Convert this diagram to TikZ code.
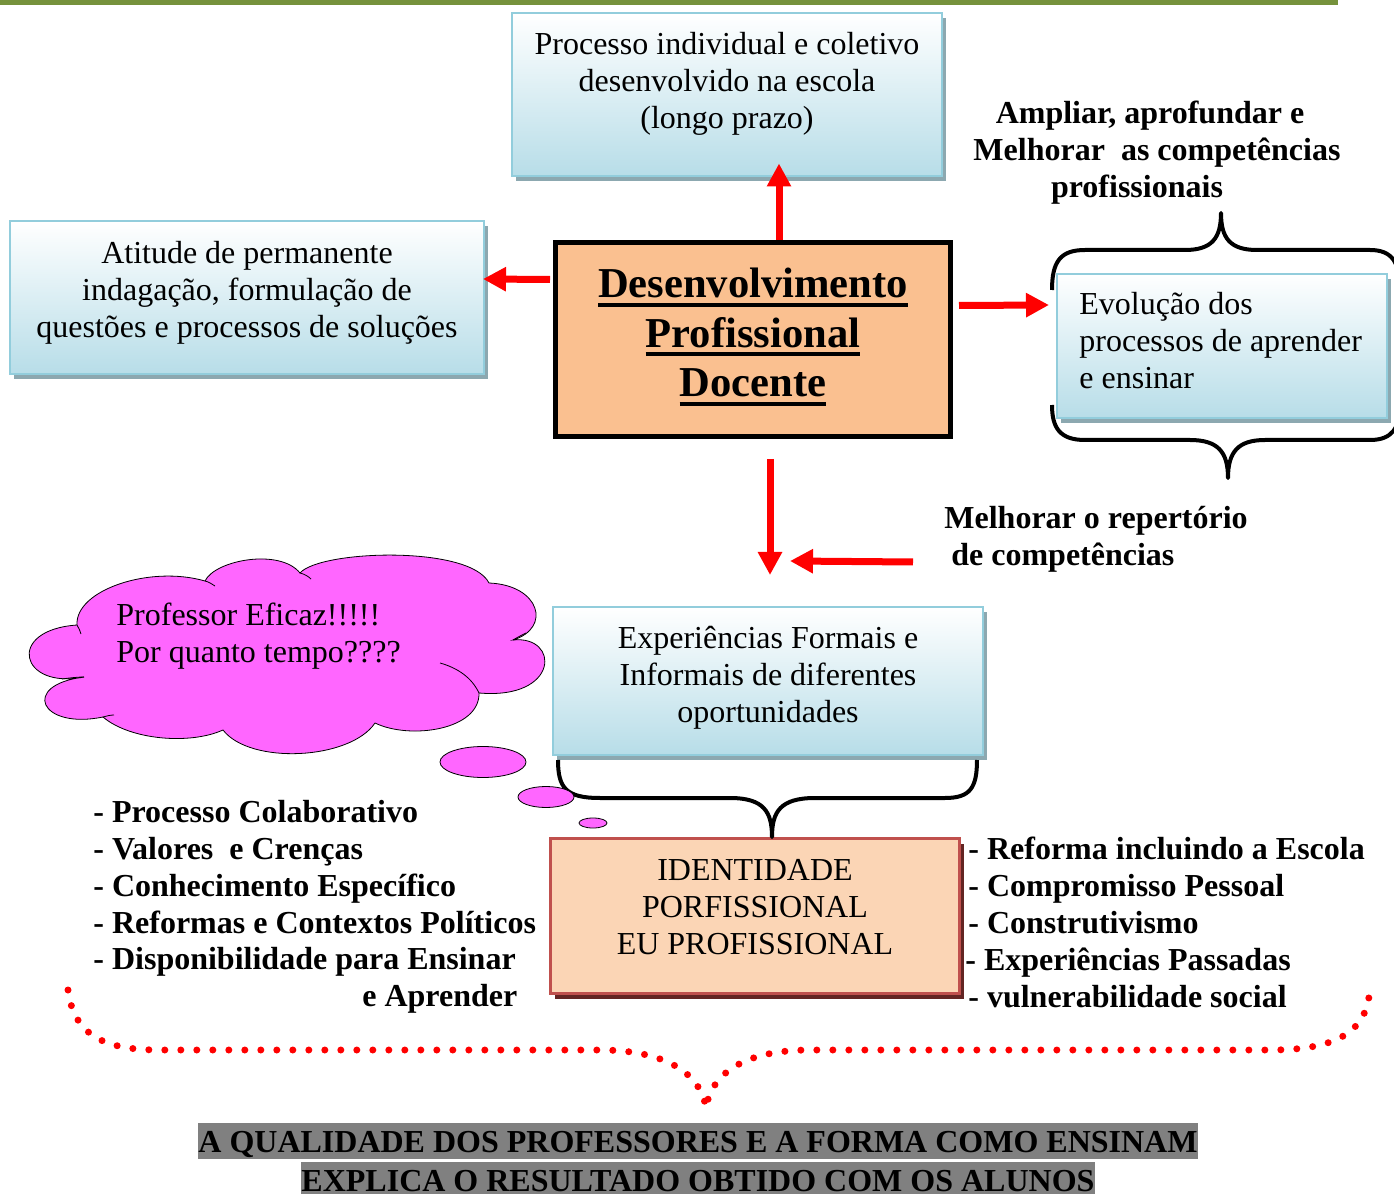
\documentclass[tikz,border=0pt]{standalone}
\usepackage{fontspec}
\setmainfont{Liberation Serif}
\usepackage{tikz}
\usetikzlibrary{arrows.meta,shadows,shapes.geometric}
\definecolor{verdeoliva}{RGB}{118,146,60}
\definecolor{bordaazul}{RGB}{146,205,220}
\definecolor{azulclaro}{RGB}{183,221,232}
\definecolor{sombraazul}{RGB}{140,168,176}
\definecolor{laranja}{RGB}{250,192,144}
\definecolor{pessego}{RGB}{251,213,181}
\definecolor{bordavermelha}{RGB}{192,80,77}
\definecolor{sombravermelha}{RGB}{99,37,35}
\definecolor{rosa}{RGB}{255,102,255}
\definecolor{cinza}{RGB}{128,128,128}
\newcommand{\sublinha}[1]{\setbox0\hbox{#1}\rlap{\rule[-4.5pt]{\wd0}{2pt}}\box0}

\begin{document}
\begin{tikzpicture}[x=0.5pt, y=-0.5pt, font=\fontsize{16pt}{18.5pt}\selectfont,
    caixa/.style = {draw=bordaazul, line width=1pt, top color=white, bottom color=azulclaro, inner sep=0pt, drop shadow={shadow xshift=2pt, shadow yshift=-2.5pt, fill=sombraazul, opacity=1}},
    ident/.style = {draw=bordavermelha, line width=1.2pt, fill=pessego, inner sep=0pt, drop shadow={shadow xshift=2pt, shadow yshift=-2.5pt, fill=sombravermelha, opacity=1}},
    centro/.style = {draw=black, line width=2.5pt, fill=laranja, inner sep=0pt},
    texto/.style = {align=center, inner sep=0pt},
    negrito/.style = {align=left, inner sep=0pt, font=\fontsize{16pt}{18.4pt}\selectfont\bfseries},
    seta/.style = {draw=red, line width=3.5pt, -{Triangle[width=11.5pt,length=11.5pt]}},
    chave/.style = {draw, line width=2pt, line join=round},
    pontos/.style = {draw=red, line width=3.5pt, line cap=round, dash pattern=on 0pt off 8pt},
    nuvem/.style = {draw, thin, fill=rosa},
    bolha/.style = {ellipse, draw, thin, fill=rosa, inner sep=0pt},
    faixa/.style = {fill=cinza, inner sep=0pt, anchor=north, text height=14.3pt, font=\fontsize{16pt}{18.5pt}\selectfont\bfseries}]
                    \useasboundingbox (0,0) rectangle (1394,1198);
                    \fill[verdeoliva] (0,0) rectangle (1338,5);
                    \node[caixa, minimum width=215pt, minimum height=81.5pt] (topo) at (727,95) {};
                    \node[texto] (topotxt) at (727,84) {Processo individual e coletivo\\desenvolvido na escola\\(longo prazo)};
                    \node[caixa, minimum width=237pt, minimum height=76.5pt] (esq) at (247,298) {};
                    \node[texto] (esqtxt) at (247,292.5) {Atitude de permanente\\indagação, formulação de\\questões e processos de soluções};
                    \node[caixa, minimum width=165pt, minimum height=72pt] (evol) at (1222,346) {};
                    \node[texto, align=left, anchor=west] (evoltxt) at (1079,341) {Evolução dos\\processos de aprender\\e ensinar};
                    \node[caixa, minimum width=215pt, minimum height=74pt] (exper) at (768,681) {};
                    \node[texto] (expertxt) at (768,678) {Experiências Formais e\\Informais de diferentes\\oportunidades};
                    \node[ident, minimum width=204.5pt, minimum height=77.5pt] (identidade) at (755,916) {};
                    \node[texto] (identtxt) at (755,907) {IDENTIDADE\\PORFISSIONAL\\EU PROFISSIONAL};
                    \node[centro, minimum width=197.5pt, minimum height=97pt] (desenv) at (753,339.5) {};
                    \node[texto, font=\fontsize{21.3pt}{24.75pt}\selectfont\bfseries] (desenvtxt) at (753,337) {\sublinha{Desenvolvimento}\\\sublinha{Profissional}\\\sublinha{Docente}};
                    \node[negrito, align=center] (ampliar) at (1157,152.5) {Ampliar, aprofundar e\hspace*{7pt}\\Melhorar\ \ as competências\\profissionais\hspace*{20pt}};
                    \node[negrito, anchor=west] (repert) at (944,539) {Melhorar o repertório\\\hspace*{3.5pt}de competências};
                    \node[negrito, anchor=west] (listaesq) at (93,907) {- Processo Colaborativo\\- Valores\ \ e Crenças\\- Conhecimento Específico\\- Reformas e Contextos Políticos\\- Disponibilidade para Ensinar\\\hspace*{134.5pt}e Aprender};
                    \node[negrito, anchor=west] (listadir) at (968,922.5) {- Reforma incluindo a Escola\\- Compromisso Pessoal\\- Construtivismo\\\hspace*{-1.5pt}- Experiências Passadas\\- vulnerabilidade social};
                    \draw[chave] (1052,290) .. controls (1052,262) and (1060,250) .. (1085,250) -- (1185,250) .. controls (1212,250) and (1221,238) .. (1221,213) .. controls (1221,238) and (1230,250) .. (1257,250) -- (1370,250) .. controls (1392,250) and (1400,262) .. (1400,290);
                    \draw[chave] (1052,405) .. controls (1052,428) and (1060,440) .. (1085,440) -- (1190,440) .. controls (1218,440) and (1228,452) .. (1228,478) .. controls (1228,452) and (1238,440) .. (1265,440) -- (1370,440) .. controls (1392,440) and (1400,428) .. (1400,405);
                    \draw[chave] (558,760) .. controls (558,788) and (566,798) .. (600,798) -- (730,798) .. controls (764,798) and (772,812) .. (772,837) .. controls (772,812) and (780,798) .. (815,798) -- (945,798) .. controls (970,798) and (977,788) .. (977,760);
                    \draw[nuvem] (84,677) .. controls (20,690) and (5,630) .. (77,625) .. controls (75,590) and (150,565) .. (205,581) .. controls (215,560) and (280,548) .. (300,573) .. controls (320,550) and (470,545) .. (489,583) .. controls (540,585) and (552,628) .. (513,640) .. controls (560,635) and (560,700) .. (479,693) .. controls (480,730) and (410,740) .. (375,723) .. controls (350,760) and (250,765) .. (223,730) .. controls (190,745) and (130,740) .. (103,717) .. controls (40,730) and (20,685) .. cycle;
                    \draw[thin] (77,625) .. controls (79,628) and (80,631) .. (81,634);
                    \draw[thin] (205,581) .. controls (209,582) and (212,584) .. (215,586);
                    \draw[thin] (300,573) .. controls (304,574) and (308,576) .. (311,579);
                    \draw[thin] (513,640) .. controls (518,637) and (522,635) .. (526,633);
                    \draw[thin] (479,693) .. controls (472,678) and (458,668) .. (440,663);
                    \draw[thin] (103,717) .. controls (107,716) and (110,715) .. (114,715);
                    \draw[thin] (84,677) .. controls (77,677) and (69,678) .. (62,679);
                    \node[texto, align=left, anchor=west] (nuvemtxt) at (116,636) {Professor Eficaz!!!!!\\Por quanto tempo????};
                    \node[bolha, minimum width=43pt, minimum height=15.5pt] (bolha1) at (483,762) {};
                    \node[bolha, minimum width=28pt, minimum height=10.5pt] (bolha2) at (546,797) {};
                    \node[bolha, minimum width=14pt, minimum height=5pt] (bolha3) at (593,823) {};
                    \draw[seta] ([xshift=13pt]desenv.north) -- ([xshift=26pt,yshift=7pt]topo.south);
                    \draw[seta] ([xshift=-1.5pt,yshift=30pt]desenv.west) -- ([xshift=-1pt,yshift=9.5pt]esq.east);
                    \draw[seta] ([xshift=3pt,yshift=17pt]desenv.east) -- ([xshift=-3.5pt,yshift=20.5pt]evol.west);
                    \draw[seta] ([xshift=8.5pt,yshift=-10pt]desenv.south) -- ([xshift=1pt,yshift=15.5pt]exper.north);
                    \draw[seta] ([xshift=-15.5pt,yshift=-11.5pt]repert.west) -- ([xshift=11pt,yshift=22.5pt]exper.north);
                    \draw[pontos] (68,990) .. controls (74,1036) and (105,1050) .. (160,1050) -- (600,1050) .. controls (660,1050) and (700,1070) .. (706,1108) .. controls (712,1070) and (750,1050) .. (810,1050) -- (1270,1050) .. controls (1340,1050) and (1370,1030) .. (1370,983);
                    \node[faixa, text depth=3.5pt] (conclusao1) at (698,1123) {A QUALIDADE DOS PROFESSORES E A FORMA COMO ENSINAM};
                    \node[faixa, text depth=1.4pt] (conclusao2) at (698,1162) {EXPLICA O RESULTADO OBTIDO COM OS ALUNOS};
                \end{tikzpicture}
\end{document}
